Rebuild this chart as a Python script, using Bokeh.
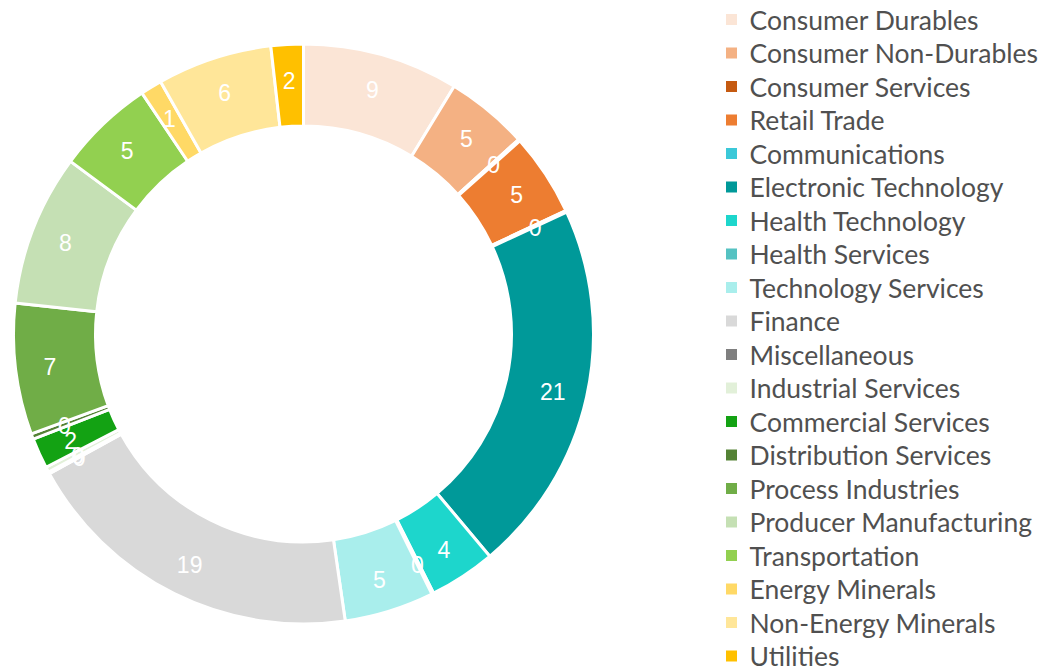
import numpy as np
from bokeh.plotting import figure
from bokeh.models import Range1d, ColumnDataSource
from bokeh.core.properties import value
from bokeh.embed import file_html
from bokeh.resources import INLINE

categories = ["Consumer Durables", "Consumer Non-Durables", "Consumer Services", "Retail Trade",
              "Communications", "Electronic Technology", "Health Technology", "Health Services",
              "Technology Services", "Finance", "Miscellaneous", "Industrial Services",
              "Commercial Services", "Distribution Services", "Process Industries",
              "Producer Manufacturing", "Transportation", "Energy Minerals",
              "Non-Energy Minerals", "Utilities"]
values = [8.7, 4.6, 0.1, 4.6, 0.1, 20.8, 3.7, 0.1, 5.0, 19.3, 0.1, 0.3, 1.7, 0.3, 7.3,
          8.45, 5.45, 1.2, 6.4, 1.8]
colors = ["#FBE5D6", "#F4B183", "#C55A11", "#ED7D31", "#3BC8D8", "#009999", "#1DD6CC",
          "#55C2C2", "#A9EEEC", "#D9D9D9", "#7F7F7F", "#E2F0D9", "#13A213", "#548235",
          "#70AD47", "#C5E0B4", "#92D050", "#FFD966", "#FFE699", "#FFC000"]

W, H = 1038, 672
p = figure(width=W, height=H, output_backend="svg", toolbar_location=None,
           x_range=Range1d(0, W), y_range=Range1d(-H, 0),
           min_border=0)
p.axis.visible = False
p.grid.visible = False
p.outline_line_color = None

cx, cy = 303, -333.5
r_out, r_in = 290, 208

vals = np.array(values, dtype=float)
frac = vals / vals.sum()
ends = np.cumsum(frac) * 2 * np.pi
starts = ends - frac * 2 * np.pi
start_angle = np.pi / 2 - ends
end_angle = np.pi / 2 - starts
mid = (starts + ends) / 2
r_mid = (r_out + r_in) / 2 + 6.5
lx = cx + r_mid * np.sin(mid)
ly = cy - 1.5 + r_mid * np.cos(mid)
labels = [str(int(round(v))) for v in values]

src = ColumnDataSource(dict(sa=start_angle, ea=end_angle, color=colors, lx=lx, ly=ly, lab=labels))
p.annular_wedge(x=cx, y=cy, inner_radius=r_in, outer_radius=r_out, start_angle="sa",
                end_angle="ea", fill_color="color", line_color="white", line_width=3,
                source=src)
p.text(x="lx", y="ly", text="lab", source=src, text_color="white",
       text_font=value("Liberation Sans"), text_font_size="23px",
       text_align="center", text_baseline="middle")

# legend
n = len(categories)
leg_y = -(19 + 33.5 * np.arange(n))
lsrc = ColumnDataSource(dict(x=[731] * n, tx=[749] * n, y=leg_y, name=categories, color=colors))
p.rect(x="x", y="y", width=11, height=11, fill_color="color", line_color=None, source=lsrc)
p.text(x="tx", y="y", text="name", source=lsrc, text_color="#505050",
       text_font=value("Lato"), text_font_size="26.5px", text_baseline="middle")

open("out.html", "w").write(file_html(p, INLINE))
